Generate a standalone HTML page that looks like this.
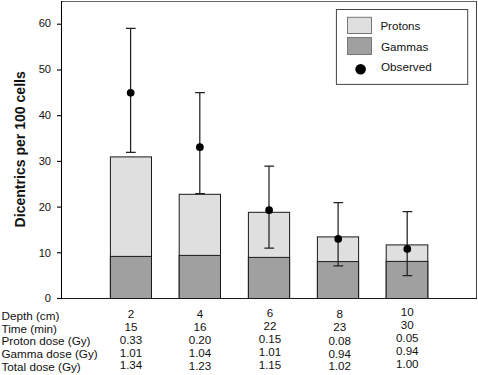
<!DOCTYPE html><html><head><meta charset="utf-8"><style>html,body{margin:0;padding:0;background:#fff}svg{display:block}text{font-family:"Liberation Sans",sans-serif;fill:#111}</style></head><body>
<svg width="478" height="375" viewBox="0 0 478 375">
<rect width="478" height="375" fill="#fff"/>
<path d="M61.5 1.5H477" fill="none" stroke="#666" stroke-width="1"/><path d="M476.5 1V298.5" fill="none" stroke="#444" stroke-width="1"/>
<rect x="110.4" y="156.9" width="41.1" height="141.6" fill="#dfdfdf" stroke="#1a1a1a" stroke-width="1"/>
<rect x="110.4" y="256.4" width="41.1" height="42.1" fill="#a0a0a0" stroke="#1a1a1a" stroke-width="1"/>
<rect x="179.2" y="194.3" width="41.3" height="104.2" fill="#dfdfdf" stroke="#1a1a1a" stroke-width="1"/>
<rect x="179.2" y="255.4" width="41.3" height="43.1" fill="#a0a0a0" stroke="#1a1a1a" stroke-width="1"/>
<rect x="248.4" y="212.3" width="41.2" height="86.2" fill="#dfdfdf" stroke="#1a1a1a" stroke-width="1"/>
<rect x="248.4" y="257.4" width="41.2" height="41.1" fill="#a0a0a0" stroke="#1a1a1a" stroke-width="1"/>
<rect x="317.4" y="236.9" width="41.2" height="61.6" fill="#dfdfdf" stroke="#1a1a1a" stroke-width="1"/>
<rect x="317.4" y="261.6" width="41.2" height="36.9" fill="#a0a0a0" stroke="#1a1a1a" stroke-width="1"/>
<rect x="386.2" y="244.9" width="41.6" height="53.6" fill="#dfdfdf" stroke="#1a1a1a" stroke-width="1"/>
<rect x="386.2" y="261.4" width="41.6" height="37.1" fill="#a0a0a0" stroke="#1a1a1a" stroke-width="1"/>
<path d="M61.5 1V298.5" fill="none" stroke="#000" stroke-width="1.05"/><path d="M57 298.5H477" fill="none" stroke="#1a1a1a" stroke-width="1"/>
<path d="M57 298.5H62" stroke="#000" stroke-width="1.1"/>
<path d="M57 252.8H62" stroke="#000" stroke-width="1.1"/>
<path d="M57 207.1H62" stroke="#000" stroke-width="1.1"/>
<path d="M57 161.4H62" stroke="#000" stroke-width="1.1"/>
<path d="M57 115.7H62" stroke="#000" stroke-width="1.1"/>
<path d="M57 70.0H62" stroke="#000" stroke-width="1.1"/>
<path d="M57 24.2H62" stroke="#000" stroke-width="1.1"/>
<path d="M130.6 28.3V152.3M126.0 28.3H135.7M126.0 152.3H135.7" fill="none" stroke="#222" stroke-width="1.25"/>
<path d="M199.8 92.5V193.5M195.2 92.5H204.9M195.2 193.5H204.9" fill="none" stroke="#222" stroke-width="1.25"/>
<path d="M269.0 166.1V248.2M264.4 166.1H274.1M264.4 248.2H274.1" fill="none" stroke="#222" stroke-width="1.25"/>
<path d="M338.1 202.7V265.9M333.5 202.7H343.2M333.5 265.9H343.2" fill="none" stroke="#222" stroke-width="1.25"/>
<path d="M407.2 211.5V275.6M402.6 211.5H412.3M402.6 275.6H412.3" fill="none" stroke="#222" stroke-width="1.25"/>
<circle cx="130.7" cy="92.8" r="3.85" fill="#000"/>
<circle cx="199.9" cy="147.2" r="3.85" fill="#000"/>
<circle cx="269.1" cy="210.2" r="3.85" fill="#000"/>
<circle cx="338.2" cy="238.9" r="3.85" fill="#000"/>
<circle cx="407.3" cy="248.9" r="3.85" fill="#000"/>
<rect x="336.4" y="9.5" width="131.3" height="74.9" fill="#fff" stroke="#444" stroke-width="1"/>
<rect x="347.5" y="17.3" width="24" height="16.2" fill="#dfdfdf" stroke="#777" stroke-width="1"/>
<rect x="347.5" y="37.5" width="24" height="17" fill="#a0a0a0" stroke="#777" stroke-width="1"/>
<circle cx="360.6" cy="69.3" r="5.3" fill="#000"/>
<text x="380.4" y="30" font-size="11.6">Protons</text>
<text x="381" y="50.5" font-size="11.7">Gammas</text>
<text x="381" y="70.5" font-size="11.7">Observed</text>
<text transform="translate(51.1,302.4) scale(0.95,1)" font-size="11.8" text-anchor="end">0</text>
<text transform="translate(51.1,256.6) scale(0.95,1)" font-size="11.8" text-anchor="end">10</text>
<text transform="translate(51.1,210.7) scale(0.95,1)" font-size="11.8" text-anchor="end">20</text>
<text transform="translate(51.1,164.8) scale(0.95,1)" font-size="11.8" text-anchor="end">30</text>
<text transform="translate(51.1,118.9) scale(0.95,1)" font-size="11.8" text-anchor="end">40</text>
<text transform="translate(51.1,73.0) scale(0.95,1)" font-size="11.8" text-anchor="end">50</text>
<text transform="translate(51.1,27.1) scale(0.95,1)" font-size="11.8" text-anchor="end">60</text>
<text transform="translate(24.7,149.3) rotate(-90)" font-size="14.06" font-weight="bold" text-anchor="middle">Dicentrics per 100 cells</text>
<text x="1.5" y="319.6" font-size="11.7">Depth (cm)</text>
<text x="1.5" y="332.7" font-size="11.7">Time (min)</text>
<text x="1.5" y="345.3" font-size="11.7">Proton dose (Gy)</text>
<text x="1.5" y="358.1" font-size="11.7">Gamma dose (Gy)</text>
<text x="1.5" y="370.9" font-size="11.7">Total dose (Gy)</text>
<text x="131" y="317.6" font-size="11.6" text-anchor="middle">2</text>
<text x="131" y="330.7" font-size="11.6" text-anchor="middle">15</text>
<text x="131" y="343.7" font-size="11.6" text-anchor="middle">0.33</text>
<text x="131" y="356.8" font-size="11.6" text-anchor="middle">1.01</text>
<text x="131" y="369.2" font-size="11.6" text-anchor="middle">1.34</text>
<text x="200" y="318" font-size="11.6" text-anchor="middle">4</text>
<text x="200" y="331.2" font-size="11.6" text-anchor="middle">16</text>
<text x="200" y="344.2" font-size="11.6" text-anchor="middle">0.20</text>
<text x="200" y="357.3" font-size="11.6" text-anchor="middle">1.04</text>
<text x="200" y="369.8" font-size="11.6" text-anchor="middle">1.23</text>
<text x="270.0" y="317.1" font-size="11.6" text-anchor="middle">6</text>
<text x="270.0" y="330.2" font-size="11.6" text-anchor="middle">22</text>
<text x="270.0" y="343" font-size="11.6" text-anchor="middle">0.15</text>
<text x="270.0" y="356.3" font-size="11.6" text-anchor="middle">1.01</text>
<text x="270.0" y="368.8" font-size="11.6" text-anchor="middle">1.15</text>
<text x="339.7" y="318.3" font-size="11.6" text-anchor="middle">8</text>
<text x="339.7" y="331.4" font-size="11.6" text-anchor="middle">23</text>
<text x="339.7" y="344.5" font-size="11.6" text-anchor="middle">0.08</text>
<text x="339.7" y="357.5" font-size="11.6" text-anchor="middle">0.94</text>
<text x="339.7" y="370.4" font-size="11.6" text-anchor="middle">1.02</text>
<text x="407.3" y="315.8" font-size="11.6" text-anchor="middle">10</text>
<text x="407.3" y="328.9" font-size="11.6" text-anchor="middle">30</text>
<text x="407.3" y="342" font-size="11.6" text-anchor="middle">0.05</text>
<text x="407.3" y="354.8" font-size="11.6" text-anchor="middle">0.94</text>
<text x="407.3" y="367.8" font-size="11.6" text-anchor="middle">1.00</text>
</svg></body></html>
